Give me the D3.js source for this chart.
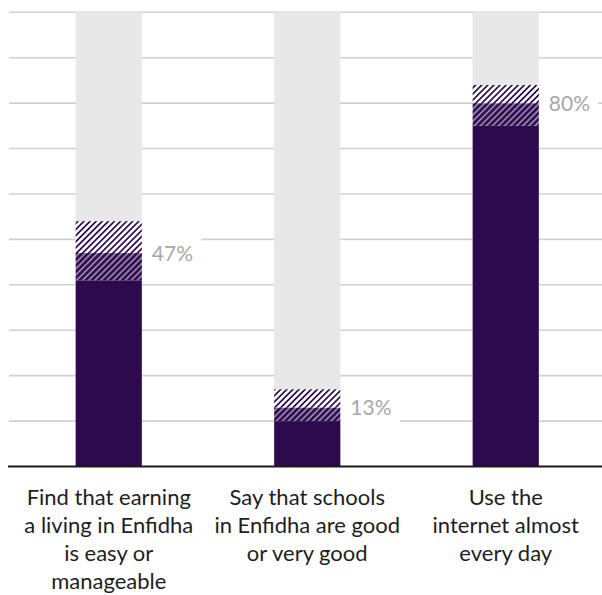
<!DOCTYPE html>
<html>
<head>
<meta charset="utf-8">
<script src="https://cdn.jsdelivr.net/npm/d3@7"></script>
<style>
  html, body { margin: 0; padding: 0; background: #fff; }
  svg { display: block; }
</style>
</head>
<body>
<svg id="chart" width="602" height="595"></svg>
<script>
// ---- data ----
const categories = ["earning", "schools", "internet"];
const categoryLabels = [
  ["Find that earning", "a living in Enfidha", "is easy or", "manageable"],
  ["Say that schools", "in Enfidha are good", "or very good"],
  ["Use the", "internet almost", "every day"]
];
const values = [47, 13, 80];
const lowerBounds = [41, 10, 75];
const upperBounds = [54, 17, 84];
const valueLabels = ["47%", "13%", "80%"];
const maxValue = 100;

// ---- style ----
const dark = "#2d0a4d";
const barBg = "#e8e8e8";
const gridColor = "#d0d0d0";

const svg = d3.select("#chart");

const x = d3.scaleBand().domain(categories).range([9.5, 605]).paddingInner(2/3).paddingOuter(1/3);
const y = d3.scaleLinear().domain([0, maxValue]).range([466.5, 12.3]);

const defs = svg.append("defs");
const pUp = defs.append("pattern").attr("id", "hatchUp").attr("patternUnits", "userSpaceOnUse")
  .attr("width", 4.3).attr("height", 10).attr("patternTransform", "rotate(45)");
pUp.append("rect").attr("width", 4.3).attr("height", 10).attr("fill", "#ffffff");
pUp.append("rect").attr("x", 0).attr("width", 1.7).attr("height", 10).attr("fill", dark);

const pLo = defs.append("pattern").attr("id", "hatchLo").attr("patternUnits", "userSpaceOnUse")
  .attr("width", 4.3).attr("height", 10).attr("patternTransform", "rotate(45)");
pLo.append("rect").attr("width", 4.3).attr("height", 10).attr("fill", dark);
pLo.append("rect").attr("x", 2.2).attr("width", 1.4).attr("height", 10).attr("fill", "#b3a6c0");

// gridlines
svg.append("g").selectAll("line").data(y.ticks(10).filter(d => d > 0)).join("line")
  .attr("x1", 9).attr("x2", 602)
  .attr("y1", d => y(d)).attr("y2", d => y(d))
  .attr("stroke", gridColor).attr("stroke-width", 1.6);

const idx = d3.range(categories.length);
const bars = svg.append("g");

// background 100% bars
bars.selectAll("rect.bg").data(idx).join("rect").attr("class", "bg")
  .attr("x", i => x(categories[i])).attr("width", x.bandwidth())
  .attr("y", y(maxValue)).attr("height", y(0) - y(maxValue)).attr("fill", barBg);

// solid bars up to lower bound
bars.selectAll("rect.solid").data(idx).join("rect").attr("class", "solid")
  .attr("x", i => x(categories[i])).attr("width", x.bandwidth())
  .attr("y", i => y(lowerBounds[i])).attr("height", i => y(0) - y(lowerBounds[i])).attr("fill", dark);

// hatched lower part (lower bound to value)
bars.selectAll("rect.lo").data(idx).join("rect").attr("class", "lo")
  .attr("x", i => x(categories[i])).attr("width", x.bandwidth())
  .attr("y", i => y(values[i])).attr("height", i => y(lowerBounds[i]) - y(values[i])).attr("fill", "url(#hatchLo)");

// hatched upper part (value to upper bound)
bars.selectAll("rect.up").data(idx).join("rect").attr("class", "up")
  .attr("x", i => x(categories[i])).attr("width", x.bandwidth())
  .attr("y", i => y(upperBounds[i])).attr("height", i => y(values[i]) - y(upperBounds[i])).attr("fill", "url(#hatchUp)");

// value labels with white boxes
const labels = svg.append("g");
labels.selectAll("rect").data(idx).join("rect")
  .attr("x", i => x(categories[i]) + x.bandwidth() + 0.5)
  .attr("width", 59)
  .attr("y", i => y(values[i]) - 18).attr("height", 36).attr("fill", "#fff");
labels.selectAll("text").data(idx).join("text")
  .attr("x", i => x(categories[i]) + x.bandwidth() + 10)
  .attr("y", i => y(values[i]) + 7.5)
  .attr("font-family", "Lato, 'Open Sans', sans-serif")
  .attr("font-size", 21)
  .attr("fill", "#a8a8a8")
  .text(i => valueLabels[i]);

// axis line
svg.append("line").attr("x1", 8).attr("x2", 602).attr("y1", y(0)).attr("y2", y(0))
  .attr("stroke", "#1a1a1a").attr("stroke-width", 2);

// category labels
const cat = svg.append("g");
idx.forEach(i => {
  const t = cat.append("text")
    .attr("x", x(categories[i]) + x.bandwidth() / 2)
    .attr("y", 505)
    .attr("text-anchor", "middle")
    .attr("font-family", "Lato, 'Open Sans', sans-serif")
    .attr("font-size", 22)
    .attr("fill", "#1e1e1e");
  categoryLabels[i].forEach((line, k) => {
    t.append("tspan").attr("x", x(categories[i]) + x.bandwidth() / 2).attr("y", 505 + k * 28).text(line);
  });
});
</script>
</body>
</html>
